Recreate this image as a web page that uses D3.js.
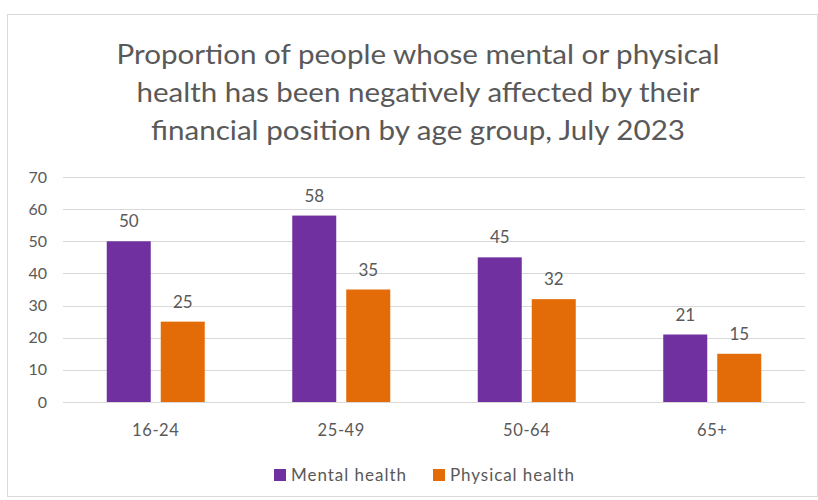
<!DOCTYPE html>
<html>
<head>
<meta charset="utf-8">
<script src="https://cdn.jsdelivr.net/npm/d3@7"></script>
<style>
  html, body { margin: 0; padding: 0; background: #fff; }
  svg { display: block; font-family: Lato, "Open Sans", sans-serif; }
</style>
</head>
<body>
<svg id="chart" width="818" height="500"></svg>
<script>
// Age groups and the share (%) reporting a negative effect on health
const ageGroups = ["16-24", "25-49", "50-64", "65+"];
const seriesNames = ["Mental health", "Physical health"];
const mentalHealth = [50, 58, 45, 21];
const physicalHealth = [25, 35, 32, 15];
const yTicks = [0, 10, 20, 30, 40, 50, 60, 70];
const titleLines = [
  "Proportion of people whose mental or physical",
  "health has been negatively affected by their",
  "financial position by age group, July 2023"
];
const seriesColors = ["#7030A0", "#E36C09"];

const svg = d3.select("#chart");
const W = 818, H = 500;
const margin = { left: 63, right: 13, top: 177, bottom: 98 };
const textColor = "#595959";

// Chart frame
svg.append("rect")
  .attr("x", 7.5).attr("y", 14.5)
  .attr("width", W - 8).attr("height", 482)
  .attr("fill", "#fff").attr("stroke", "#d9d9d9");

// Title
const titleWidths = [603, 563, 534];
svg.append("g").selectAll("text")
  .data(titleLines)
  .join("text")
  .attr("x", 418)
  .attr("y", (d, i) => 64 + i * 38)
  .attr("text-anchor", "middle")
  .attr("font-size", 27)
  .attr("fill", textColor)
  .attr("textLength", (d, i) => titleWidths[i])
  .attr("lengthAdjust", "spacingAndGlyphs")
  .text(d => d);

const x0 = d3.scaleBand()
  .domain(ageGroups)
  .range([margin.left, W - margin.right])
  .paddingInner(0)
  .paddingOuter(0);

const y = d3.scaleLinear()
  .domain([0, 70])
  .range([H - margin.bottom, margin.top]);

const barW = 44, barGap = 10;
const x1 = d3.scaleOrdinal()
  .domain(seriesNames)
  .range([-(barW + barGap / 2), barGap / 2]);

// Gridlines
svg.append("g")
  .selectAll("line")
  .data(yTicks)
  .join("line")
  .attr("x1", margin.left).attr("x2", W - margin.right)
  .attr("y1", d => Math.round(y(d)) + 0.5)
  .attr("y2", d => Math.round(y(d)) + 0.5)
  .attr("stroke", "#d9d9d9").attr("stroke-width", 1);

// Y axis labels
const yAxis = d3.axisLeft(y).tickValues(yTicks).tickSize(0).tickPadding(0);
const gy = svg.append("g").attr("transform", `translate(${margin.left - 16},0)`).call(yAxis);
gy.select(".domain").remove();
gy.selectAll("text").attr("font-size", 16).attr("fill", textColor)
  .attr("font-family", "Lato, 'Open Sans', sans-serif");

// X axis labels
const xAxis = d3.axisBottom(x0).tickSize(0).tickPadding(0);
const gx = svg.append("g").attr("transform", `translate(0,${H - margin.bottom + 22})`).call(xAxis);
gx.select(".domain").remove();
gx.selectAll("text").attr("font-size", 16.5).attr("fill", textColor)
  .attr("letter-spacing", 0.6)
  .attr("font-family", "Lato, 'Open Sans', sans-serif");

// Bars
const rows = ageGroups.map((g, i) => ({
  group: g,
  values: [
    { name: seriesNames[0], value: mentalHealth[i], color: seriesColors[0] },
    { name: seriesNames[1], value: physicalHealth[i], color: seriesColors[1] }
  ]
}));

const groups = svg.append("g").selectAll("g")
  .data(rows)
  .join("g")
  .attr("transform", d => `translate(${x0(d.group) + x0.bandwidth() / 2},0)`);

groups.selectAll("rect")
  .data(d => d.values)
  .join("rect")
  .attr("x", d => x1(d.name))
  .attr("y", d => y(d.value))
  .attr("width", barW)
  .attr("height", d => y(0) - y(d.value))
  .attr("fill", d => d.color);

groups.selectAll("text")
  .data(d => d.values)
  .join("text")
  .attr("x", d => x1(d.name) + barW / 2)
  .attr("y", d => y(d.value) - 14)
  .attr("text-anchor", "middle")
  .attr("font-size", 17)
  .attr("fill", textColor)
  .text(d => d.value);

// Legend
const legendItems = [
  { name: seriesNames[0], color: seriesColors[0], x: 274, w: 115 },
  { name: seriesNames[1], color: seriesColors[1], x: 433, w: 124 }
];
const legend = svg.append("g").selectAll("g")
  .data(legendItems)
  .join("g")
  .attr("transform", d => `translate(${d.x},0)`);
legend.append("rect")
  .attr("x", 0).attr("y", 469)
  .attr("width", 12).attr("height", 12)
  .attr("fill", d => d.color);
legend.append("text")
  .attr("x", 17).attr("y", 481)
  .attr("font-size", 17)
  .attr("fill", textColor)
  .attr("textLength", d => d.w)
  .attr("lengthAdjust", "spacing")
  .text(d => d.name);
</script>
</body>
</html>
